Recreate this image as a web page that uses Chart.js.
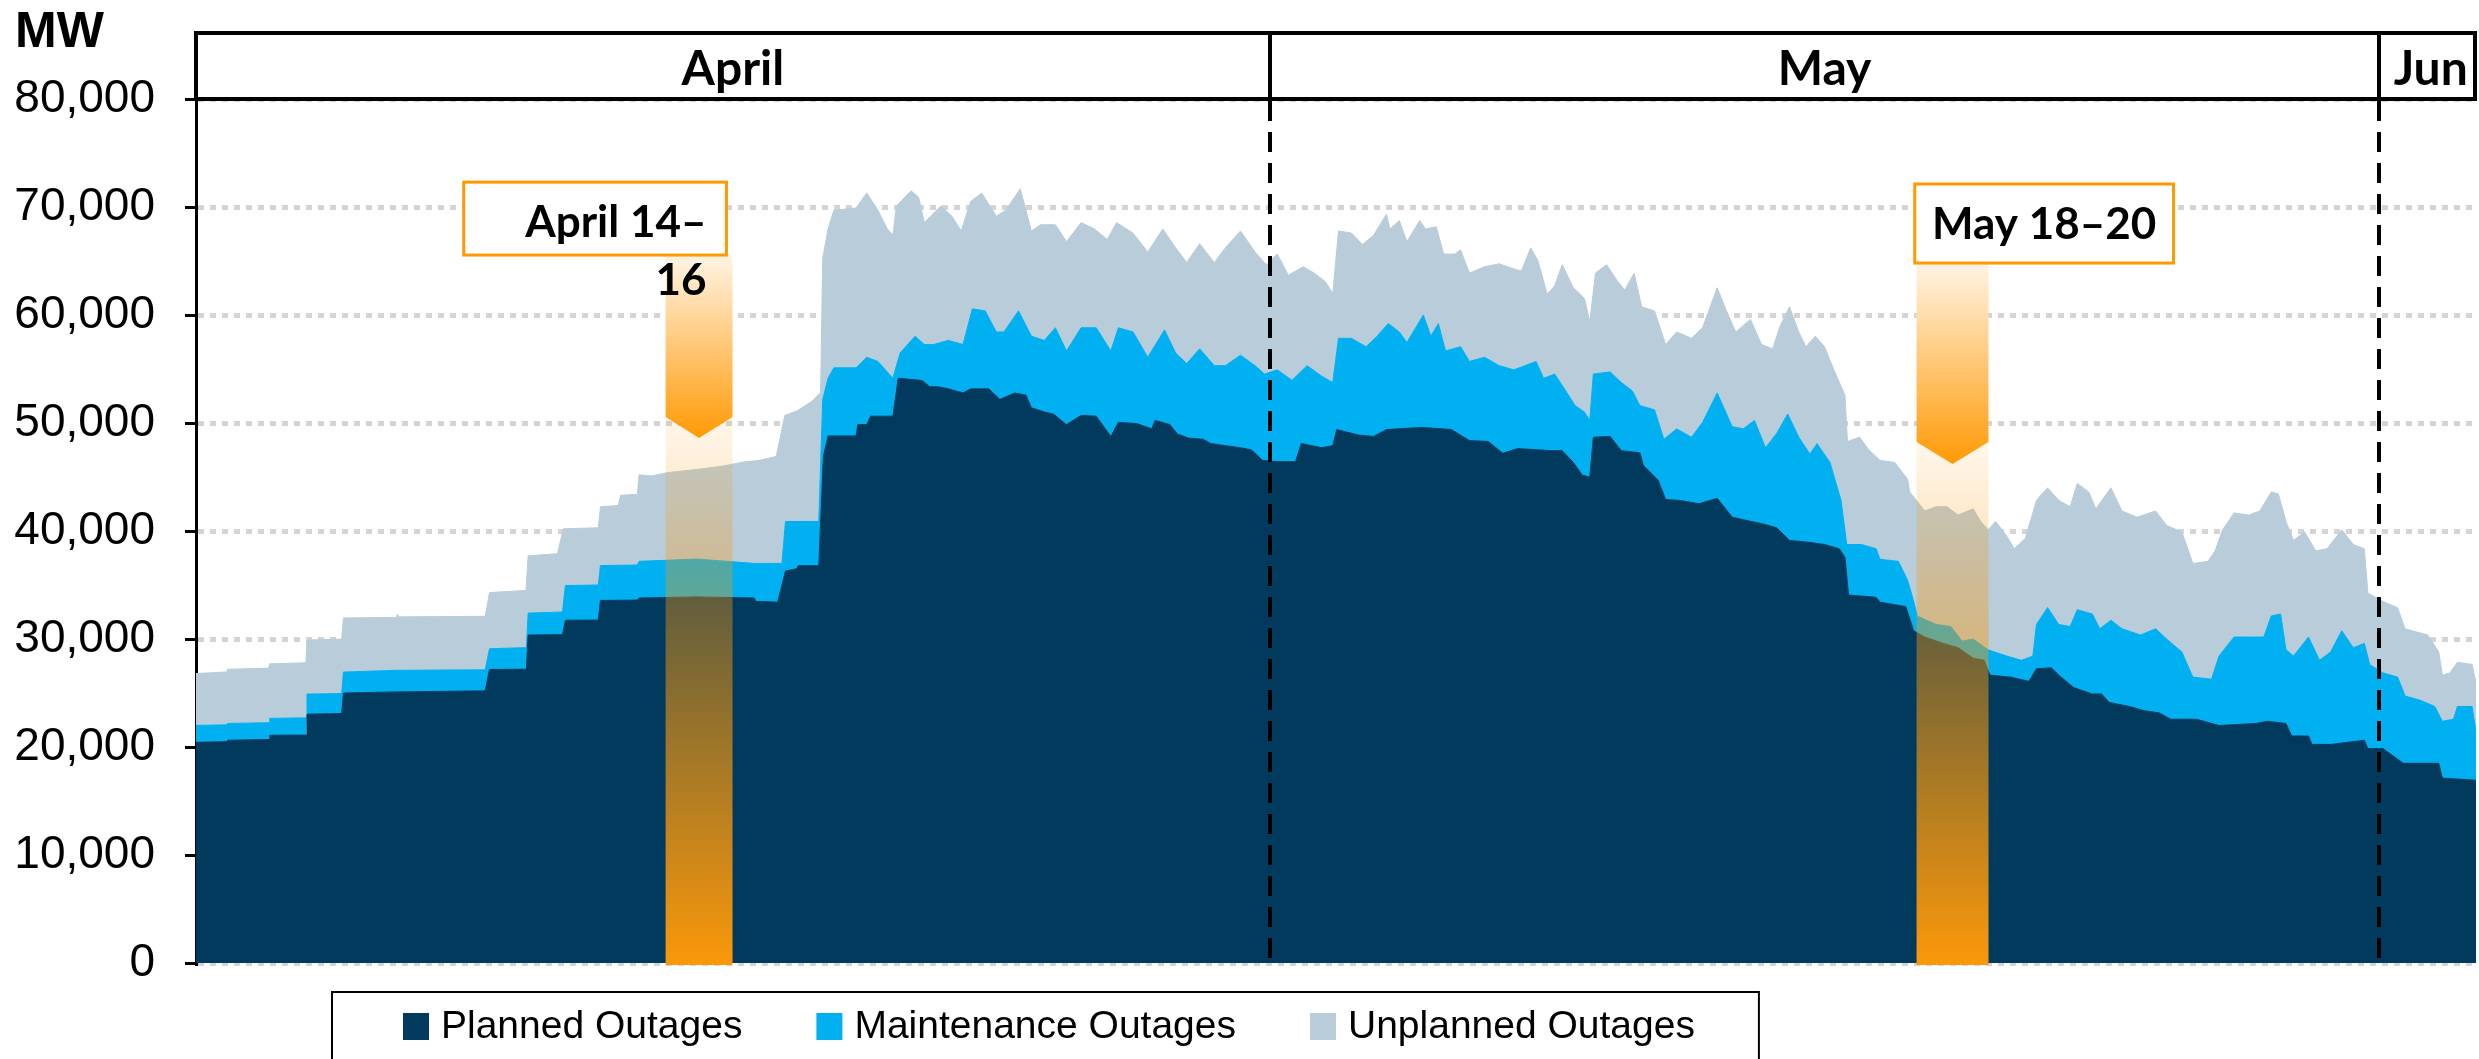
<!DOCTYPE html>
<html>
<head>
<meta charset="utf-8">
<script src="https://cdn.jsdelivr.net/npm/chart.js@4.4.0/dist/chart.umd.min.js"></script>
<style>
  html, body { margin: 0; padding: 0; background: #fff; }
</style>
</head>
<body>
<canvas id="chart" width="2479" height="1059"></canvas>
<script>
// Outages by type, Apr 1 – Jun 3. x = days since Apr 1, y = MW.
// Each series is the top edge of its band in the stacked picture.

const plannedDays = [0, 0.86, 0.88, 2.04, 2.06, 3.08, 3.10, 4.07, 4.12, 5.62, 8.08, 8.20, 9.23, 9.28, 10.24, 10.32,
  11.24, 11.30, 12.33, 12.38, 13.98, 15.60, 15.63, 16.25, 16.47, 16.78, 16.83, 17.40, 17.53, 17.66, 18.44, 18.49,
  18.74, 18.85, 19.47, 19.62, 20.29, 20.50, 20.71, 21.02, 21.43, 21.64, 22.15, 22.46, 22.88, 23.19, 23.34, 23.70,
  23.96, 24.32, 24.73, 25.15, 25.56, 25.77, 26.28, 26.70, 26.80, 27.21, 27.42, 27.73, 28.14, 28.35, 28.76, 29.18,
  29.49, 29.80, 30.21, 30.72, 30.88, 31.45, 31.76, 31.87, 32.49, 32.90, 33.26, 34.24, 35.07, 35.58, 36.10, 36.51,
  36.93, 37.86, 38.17, 38.48, 38.73, 38.94, 39.04, 39.51, 39.82, 40.34, 40.44, 40.85, 41.06, 41.47, 41.99, 42.50,
  42.92, 43.33, 43.74, 44.16, 44.52, 45.09, 45.50, 45.91, 46.07, 46.17, 46.94, 47.05, 47.77, 47.99, 48.30, 48.82,
  49.23, 49.65, 49.96, 50.12, 50.69, 51.21, 51.42, 51.84, 52.04, 52.46, 52.98, 53.24, 53.45, 54.02, 54.44, 54.85,
  55.17, 55.89, 56.52, 57.56, 57.87, 58.39, 58.55, 59.02, 59.12, 59.64, 60.58, 60.68, 61.10, 61.67, 62.66, 62.76, 63.70];
const plannedMW = [20430, 20500, 20620, 20700, 21090, 21100, 23040, 23100, 25000, 25100, 25200, 27180, 27200, 30370, 30400, 31740,
  31750, 33570, 33600, 33800, 33900, 33800, 33490, 33410, 36290, 36500, 36790, 36790, 46930, 48800, 48800, 49850,
  49850, 50630, 50630, 54140, 53940, 53360, 53360, 53160, 52780, 53160, 53160, 52190, 52780, 52580, 51410, 51020,
  50820, 49850, 50710, 50630, 48760, 50050, 49950, 49460, 50240, 49850, 48990, 48600, 48490, 48100, 47900, 47710,
  47510, 46540, 46420, 46420, 48100, 47710, 47900, 49390, 48880, 48760, 49390, 49590, 49400, 48370, 48290, 47200,
  47630, 47440, 47440, 46350, 45180, 44980, 48680, 48760, 47440, 47240, 46070, 44710, 42910, 42830, 42520, 43030,
  41280, 40970, 40690, 40300, 39130, 38940, 38750, 38360, 37580, 34070, 33870, 33410, 33000, 30760, 30180, 29590,
  29200, 28230, 28030, 26660, 26470, 26080, 27250, 27330, 26660, 25500, 24910, 24910, 24130, 23750, 23350, 23160,
  22570, 22570, 21990, 22180, 22380, 22180, 21020, 21020, 20240, 20240, 20620, 19850, 19850, 18490, 18490, 17120, 16920];

const maintenanceDays = [0, 0.86, 0.88, 2.04, 2.06, 3.08, 3.10, 4.07, 4.12, 5.62, 8.08, 8.20, 9.23, 9.28, 10.24, 10.32,
  11.24, 11.30, 12.33, 12.38, 13.98, 15.60, 16.37, 16.47, 17.40, 17.51, 17.66, 17.82, 18.44, 18.74, 19.05, 19.47,
  19.67, 20.09, 20.35, 20.60, 21.02, 21.43, 21.69, 22.05, 22.36, 22.57, 22.98, 23.34, 23.70, 24.01, 24.32, 24.73,
  25.15, 25.56, 25.77, 26.18, 26.59, 27.06, 27.37, 27.68, 28.04, 28.45, 28.76, 29.18, 29.59, 29.85, 30.21, 30.62,
  31.04, 31.45, 31.76, 31.92, 32.28, 32.69, 33.00, 33.31, 33.62, 33.83, 34.29, 34.50, 34.71, 34.91, 35.33, 35.58,
  36.00, 36.41, 36.82, 37.44, 37.65, 37.96, 38.27, 38.53, 38.79, 38.94, 39.04, 39.51, 39.82, 40.13, 40.34, 40.75,
  41.01, 41.37, 41.78, 42.09, 42.50, 42.92, 43.23, 43.54, 43.85, 44.16, 44.47, 44.78, 45.09, 45.29, 45.65, 45.96,
  46.12, 46.53, 46.94, 47.05, 47.56, 47.82, 47.99, 48.09, 48.61, 49.03, 49.34, 49.65, 50.07, 50.59, 51.00, 51.32,
  51.42, 51.73, 52.04, 52.36, 52.56, 52.98, 53.19, 53.50, 53.81, 54.33, 54.75, 55.06, 55.48, 55.79, 56.31, 56.52,
  56.94, 57.35, 57.77, 57.98, 58.24, 58.39, 58.60, 59.02, 59.33, 59.64, 59.95, 60.27, 60.58, 60.73, 61.10, 61.51,
  61.72, 62.14, 62.55, 62.76, 63.07, 63.18, 63.59, 63.70];
const maintenanceTopMW = [22000, 22050, 22180, 22250, 22650, 22700, 24900, 24950, 26940, 27100, 27150, 29100, 29200, 32400, 32500, 34950,
  35000, 36800, 36850, 37190, 37400, 37000, 37000, 40880, 40880, 52180, 54140, 55110, 55110, 56090, 55700, 54140,
  56470, 58040, 57260, 57260, 57650, 57260, 60570, 60380, 58430, 58430, 60380, 58040, 57650, 58820, 56670, 58820,
  58820, 56670, 58820, 58430, 56090, 58620, 56470, 55500, 56870, 55310, 55310, 56280, 55310, 54530, 54920, 53950,
  55310, 54340, 53750, 57840, 57840, 57060, 58040, 59210, 58430, 57450, 60000, 58040, 59210, 56670, 57060, 55700,
  56090, 55310, 54920, 55700, 54140, 54530, 52970, 51610, 51020, 50240, 54530, 54730, 53750, 52970, 51610, 51220,
  48490, 49460, 48680, 50050, 52780, 49660, 49460, 50240, 47710, 49030, 50830, 48680, 47120, 48100, 46350, 42840,
  38750, 38750, 38360, 37380, 37190, 35440, 33490, 32130, 31350, 31150, 29800, 30000, 29000, 28420, 28030, 28420,
  31350, 32910, 31350, 31150, 32710, 32320, 30950, 31740, 30950, 30370, 30950, 29980, 28810, 26470, 26280, 28420,
  30180, 30180, 30180, 32130, 32320, 29020, 28420, 30180, 28030, 28810, 30760, 29200, 29590, 27640, 26860, 26470,
  24720, 24330, 23750, 22380, 22570, 23750, 23750, 21410];

const unplannedDays = [0, 0.86, 0.88, 2.03, 2.06, 3.07, 3.10, 4.07, 4.12, 5.60, 5.63, 5.66, 8.08, 8.20, 9.22, 9.28,
  10.10, 10.26, 11.24, 11.30, 11.80, 11.86, 12.33, 12.38, 12.74, 13.16, 13.98, 14.70, 15.32, 15.75, 16.21, 16.45,
  16.78, 17.20, 17.45, 17.51, 17.66, 17.82, 18.44, 18.74, 19.05, 19.31, 19.47, 19.57, 19.98, 20.19, 20.35, 20.81,
  21.12, 21.38, 21.64, 21.95, 22.36, 22.62, 23.03, 23.34, 23.60, 24.01, 24.32, 24.73, 25.10, 25.46, 25.72, 26.18,
  26.59, 27.01, 27.37, 27.68, 28.04, 28.45, 28.76, 29.18, 29.59, 29.90, 30.21, 30.52, 30.93, 31.24, 31.55, 31.76,
  31.92, 32.28, 32.59, 32.90, 33.26, 33.36, 33.62, 33.83, 34.19, 34.35, 34.65, 34.86, 35.17, 35.33, 35.58, 36.00,
  36.41, 36.82, 37.03, 37.29, 37.49, 37.75, 37.96, 38.17, 38.48, 38.79, 38.94, 39.10, 39.41, 39.72, 39.92, 40.18,
  40.39, 40.75, 41.06, 41.37, 41.78, 42.09, 42.50, 42.76, 43.02, 43.43, 43.74, 44.05, 44.26, 44.52, 44.78, 44.98,
  45.24, 45.50, 45.76, 46.07, 46.14, 46.48, 46.74, 47.05, 47.46, 47.82, 47.88, 48.30, 48.61, 48.92, 49.23, 49.65,
  49.86, 50.07, 50.28, 50.59, 50.80, 51.11, 51.42, 51.73, 52.04, 52.36, 52.56, 52.88, 53.08, 53.50, 53.81, 54.23,
  54.75, 55.06, 55.48, 55.79, 56.21, 56.41, 56.62, 56.94, 57.35, 57.66, 57.98, 58.18, 58.39, 58.60, 58.91, 59.22,
  59.54, 59.95, 60.27, 60.58, 60.68, 61.10, 61.51, 61.72, 62.35, 62.66, 62.76, 62.97, 63.18, 63.59, 63.70];
const totalMW = [26800, 26950, 27200, 27300, 27700, 27800, 29900, 30000, 31950, 32000, 32300, 32050, 32100, 34300, 34500, 37700,
  37900, 40200, 40300, 42250, 42350, 43300, 43400, 45200, 45100, 45400, 45700, 46000, 46400, 46540, 46900, 50700,
  51100, 52000, 52800, 65250, 68000, 69700, 69900, 71300, 69700, 68000, 67400, 70100, 71500, 70900, 68560, 70100,
  69140, 67780, 70500, 71290, 69140, 69700, 71680, 67780, 68360, 68360, 66800, 68560, 67970, 67000, 68560, 67580,
  65830, 67970, 66220, 64860, 66600, 64860, 66220, 67780, 65830, 64660, 65640, 63690, 64470, 63880, 63100, 62000,
  67780, 67590, 66530, 67390, 69340, 67970, 68750, 66800, 68750, 67970, 68170, 65640, 65640, 66030, 63880, 64470,
  64740, 64270, 64070, 66220, 65050, 61930, 62710, 64660, 62520, 61540, 59400, 63880, 64660, 63100, 62320, 63880,
  60760, 60380, 57260, 58430, 57840, 58820, 62520, 60380, 58430, 59600, 57260, 56870, 59010, 60760, 58430, 57060,
  58040, 57060, 54920, 52580, 48290, 48680, 47510, 46540, 46350, 44790, 43620, 41860, 42250, 42250, 41470, 42060,
  40890, 40110, 40890, 39530, 38360, 39330, 42840, 44000, 42840, 42250, 44400, 43620, 42060, 44000, 41860, 41280,
  41860, 40500, 39920, 37000, 37190, 38160, 40110, 41670, 41470, 41860, 43620, 43430, 40890, 39130, 39920, 38160,
  38360, 40110, 38750, 38360, 34260, 33480, 32900, 30950, 30370, 28810, 26660, 26860, 27840, 27650, 25900];

const seriesNames = ['Planned Outages', 'Maintenance Outages', 'Unplanned Outages'];
const seriesColors = ['#023A5E', '#00B0F0', '#B9CCDA'];

const yTicks = [0, 10000, 20000, 30000, 40000, 50000, 60000, 70000, 80000];

const monthNames = ['April', 'May', 'Jun'];
const monthStart = [0, 30, 61];
const monthEnd = [30, 61, 63.7];

// highlighted periods: label lines, span in days, box corners, arrow start/tip in MW
const events = [
  { lines: ['April 14–', '16'], from: 13.12, to: 14.99, boxFrom: 7.48, boxTo: 14.82, boxTop: 72300, boxBottom: 65550, arrowFrom: 50550, arrowTip: 48600, align: 'right' },
  { lines: ['May 18–20'], from: 48.07, to: 50.08, boxFrom: 48.02, boxTo: 55.25, boxTop: 72130, boxBottom: 64810, arrowFrom: 48240, arrowTip: 46200, align: 'center' }
];

function pts(days, vals) {
  return days.map((d, i) => ({ x: d, y: vals[i] }));
}

const BOLD_LABEL = 'bold 44px Lato, "Open Sans", sans-serif';

const decor = {
  id: 'decor',
  afterDatasetsDraw(chart) {
    const { ctx, chartArea: a, scales: { x, y } } = chart;
    ctx.save();

    // highlight columns and arrows
    events.forEach(ev => {
      const x0 = x.getPixelForValue(ev.from), x1 = x.getPixelForValue(ev.to);
      const yA = y.getPixelForValue(ev.arrowFrom), yT = y.getPixelForValue(ev.arrowTip);
      const yB = y.getPixelForValue(ev.boxBottom);
      const g = ctx.createLinearGradient(0, yA, 0, a.bottom);
      g.addColorStop(0, 'rgba(250,152,10,0.08)');
      g.addColorStop(1, 'rgba(250,152,10,1)');
      ctx.fillStyle = g;
      ctx.fillRect(x0, yA, x1 - x0, a.bottom + 2 - yA);

      const g2 = ctx.createLinearGradient(0, yB, 0, yT);
      g2.addColorStop(0, '#FFF4E6');
      g2.addColorStop(1, '#FF9A05');
      ctx.fillStyle = g2;
      ctx.beginPath();
      ctx.moveTo(x0, yB);
      ctx.lineTo(x1, yB);
      ctx.lineTo(x1, yA);
      ctx.lineTo((x0 + x1) / 2, yT);
      ctx.lineTo(x0, yA);
      ctx.closePath();
      ctx.fill();
    });

    // month dividers inside plot
    ctx.strokeStyle = '#000';
    ctx.lineWidth = 4;
    ctx.setLineDash([20, 11]);
    monthStart.slice(1).forEach(d => {
      const px = Math.round(x.getPixelForValue(d));
      ctx.beginPath();
      ctx.moveTo(px, a.top + 2);
      ctx.lineTo(px, a.bottom);
      ctx.stroke();
    });
    ctx.setLineDash([]);

    // month band
    const bandTop = a.top - 66;
    ctx.strokeRect(a.left, bandTop, a.right - a.left - 1, 66);
    ctx.fillStyle = '#000';
    ctx.font = 'bold 48px Lato, "Open Sans", sans-serif';
    ctx.textAlign = 'center';
    ctx.textBaseline = 'alphabetic';
    monthNames.forEach((m, i) => {
      const l = x.getPixelForValue(monthStart[i]);
      const r = Math.min(x.getPixelForValue(monthEnd[i]), a.right);
      if (i > 0) {
        ctx.beginPath();
        ctx.moveTo(Math.round(l), bandTop);
        ctx.lineTo(Math.round(l), a.top);
        ctx.stroke();
      }
      ctx.fillText(m, (l + r) / 2 + (i === 2 ? 3 : 0), a.top - 14);
    });

    // event boxes
    events.forEach(ev => {
      const bx0 = x.getPixelForValue(ev.boxFrom), bx1 = x.getPixelForValue(ev.boxTo);
      const by0 = y.getPixelForValue(ev.boxTop), by1 = y.getPixelForValue(ev.boxBottom);
      ctx.fillStyle = '#fff';
      ctx.fillRect(bx0, by0, bx1 - bx0, by1 - by0);
      ctx.strokeStyle = '#FF9900';
      ctx.lineWidth = 3;
      ctx.strokeRect(bx0, by0, bx1 - bx0, by1 - by0);
      ctx.fillStyle = '#000';
      ctx.font = BOLD_LABEL;
      ctx.textAlign = ev.align;
      const tx = ev.align === 'right' ? bx1 - 20 : (bx0 + bx1) / 2;
      ev.lines.forEach((ln, k) => ctx.fillText(ln, tx, by0 + 55 + k * 58));
    });

    ctx.restore();
  },
  afterDraw(chart) {
    const { ctx, chartArea: a } = chart;
    ctx.save();
    // axis title
    ctx.fillStyle = '#000';
    ctx.font = 'bold 50px "Liberation Sans", Arial, sans-serif';
    ctx.textAlign = 'left';
    ctx.textBaseline = 'alphabetic';
    ctx.fillText('MW', 15, 47);

    // legend
    ctx.font = '39px "Liberation Sans", Arial, sans-serif';
    const boxLeft = 332, boxTop = a.bottom + 29;
    let cx = boxLeft + 71;
    const baseY = boxTop + 46;
    chart.data.datasets.forEach((ds, i) => {
      ctx.fillStyle = ds.backgroundColor;
      ctx.fillRect(cx, baseY - 25, 26, 27);
      ctx.fillStyle = '#000';
      ctx.fillText(ds.label, cx + 38, baseY);
      cx += 38 + ctx.measureText(ds.label).width + 74;
    });
    const boxRight = cx - 74 + 64;
    ctx.strokeStyle = '#000';
    ctx.lineWidth = 2;
    ctx.strokeRect(boxLeft, boxTop, boxRight - boxLeft, 120);
    ctx.restore();
  }
};

const seriesData = [pts(plannedDays, plannedMW), pts(maintenanceDays, maintenanceTopMW), pts(unplannedDays, totalMW)];

new Chart(document.getElementById('chart'), {
  type: 'line',
  data: {
    datasets: seriesNames.map((name, i) => ({
      label: name,
      data: seriesData[i],
      backgroundColor: seriesColors[i],
      borderColor: seriesColors[i],
      borderWidth: 1,
      pointRadius: 0,
      tension: 0,
      fill: i === 0 ? 'origin' : '-1'
    }))
  },
  options: {
    responsive: false,
    animation: false,
    devicePixelRatio: 1,
    layout: { padding: { top: 99, right: 3, bottom: 96, left: 0 } },
    plugins: { legend: { display: false }, tooltip: { enabled: false } },
    scales: {
      x: { type: 'linear', display: false, min: 0, max: 63.7 },
      y: {
        min: 0, max: 80000,
        afterFit(scale) { scale.width = 196; },
        afterBuildTicks(scale) { scale.ticks = yTicks.map(v => ({ value: v })); },
        ticks: {
          color: '#000',
          padding: 30,
          font: { family: '"Liberation Sans", Arial, sans-serif', size: 46 },
          callback: v => v.toLocaleString('en-US')
        },
        grid: { color: '#D4D4D4', lineWidth: 5, tickLength: 11, tickColor: '#000', tickWidth: 3, tickBorderDash: [] },
        border: { display: true, color: '#000', width: 3, dash: [6, 6] }
      }
    }
  },
  plugins: [decor]
});
</script>
</body>
</html>
